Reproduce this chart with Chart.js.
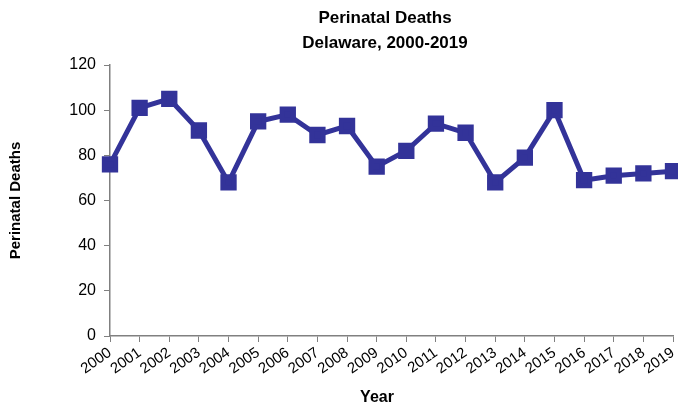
<!DOCTYPE html>
<html><head><meta charset="utf-8">
<script src="https://cdn.jsdelivr.net/npm/chart.js@4"></script>
<style>html,body{margin:0;padding:0;background:#fff}#w{width:678px;height:409px}</style>
</head><body><div id="w"><canvas id="c"></canvas></div>
<script>
const years = ['2000','2001','2002','2003','2004','2005','2006','2007','2008','2009','2010','2011','2012','2013','2014','2015','2016','2017','2018','2019'];
const deaths = [76,101,105,91,68,95,98,89,93,75,82,94,90,68,79,100,69,71,72,73];
const yTicks = [0,20,40,60,80,100,120];
const titleLines = ['Perinatal Deaths','Delaware, 2000-2019'];
const xTitle = 'Year';
const FONT = '"Liberation Sans", Arial, sans-serif';

const titlePlugin = {
  id:'ctitle',
  afterDraw(chart){
    const ctx = chart.ctx;
    ctx.save();
    ctx.fillStyle='#000';
    ctx.font = 'bold 17px ' + FONT;
    ctx.textAlign='center'; ctx.textBaseline='middle';
    ctx.fillText(titleLines[0], 385, 18);
    ctx.fillText(titleLines[1], 385, 43);
    ctx.font = 'bold 16px ' + FONT;
    ctx.fillText(xTitle, 377, 398);
    ctx.restore();
  }
};

new Chart(document.getElementById('c'), {
  type:'line',
  data:{labels:years, datasets:[{data:deaths, borderColor:'#333399', backgroundColor:'#333399',
    borderWidth:5, pointStyle:'rect', pointRadius:8, pointHoverRadius:8, tension:0, clip:false}]},
  options:{
    responsive:true, maintainAspectRatio:false, animation:false,
    layout:{autoPadding:false, padding:{top:65,right:5,left:7,bottom:2}},
    plugins:{legend:{display:false}, tooltip:{enabled:false}, title:{display:false}},
    scales:{
      x:{offset:false,
        grid:{display:true, drawOnChartArea:false, drawTicks:true, tickLength:6, color:'#808080'},
        border:{color:'#808080', width:1.5},
        ticks:{color:'#000', font:{family:FONT, size:15}, minRotation:35, maxRotation:35, autoSkip:false, padding:2},
        afterFit(s){ s.height = 71; s.paddingRight = 0; s.paddingLeft = 0; }
      },
      y:{min:0, max:120,
        afterBuildTicks(s){ s.ticks = yTicks.map(v=>({value:v})); },
        grid:{display:true, drawOnChartArea:false, drawTicks:true, tickLength:6, color:'#808080'},
        border:{color:'#808080', width:1.5},
        ticks:{color:'#000', font:{family:FONT, size:16}, padding:8},
        title:{display:true, text:'Perinatal Deaths', color:'#000', font:{family:FONT, size:15, weight:'bold'}, padding:{top:0,bottom:18}},
        afterFit(s){ s.width = 103; }
      }
    }
  },
  plugins:[titlePlugin]
});
</script></body></html>
